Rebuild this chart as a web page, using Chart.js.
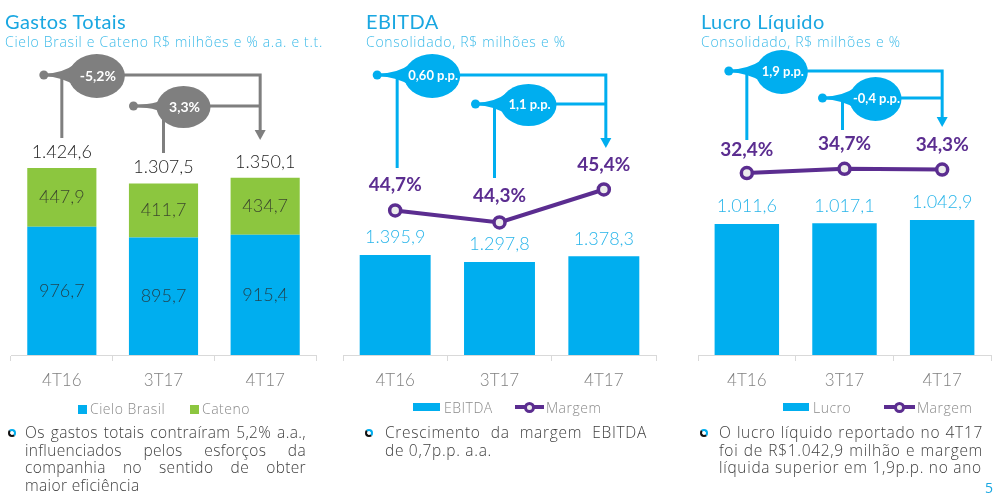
<!DOCTYPE html>
<html><head><meta charset="utf-8">
<script src="https://cdn.jsdelivr.net/npm/chart.js@4.4.0/dist/chart.umd.min.js"></script>
<style>
html,body{margin:0;padding:0;background:#fff;}
body{width:1000px;height:496px;position:relative;overflow:hidden;font-family:'Open Sans',Lato,sans-serif;}
canvas{position:absolute;left:0;top:0;}
.t{position:absolute;color:#1aa7e1;font-family:Lato,sans-serif;font-size:20px;line-height:20px;letter-spacing:0.4px;white-space:nowrap;}
.s{position:absolute;color:#3dbbe9;font-size:14px;line-height:14px;font-weight:300;letter-spacing:0.7px;white-space:nowrap;}
.leg{position:absolute;font-size:14px;color:#8a8a8a;font-weight:300;white-space:nowrap;line-height:16px;letter-spacing:0.5px;}
.sw{position:absolute;}
.lm{position:absolute;height:4px;background:#5b2d90;}
.lc{position:absolute;width:5px;height:5px;border:3px solid #5b2d90;border-radius:50%;background:#eee;}
.body{position:absolute;font-size:15.5px;color:#404040;font-weight:300;line-height:17.7px;letter-spacing:0.7px;}
.body div{text-align:justify;text-align-last:justify;}
.body div.last{text-align:left;text-align-last:left;}
.bul{position:absolute;width:4px;height:4px;border:2px solid;border-color:#00aeef #00aeef #111 #111;border-radius:50%;}
.pg{position:absolute;left:985px;top:478px;color:#1aa7e1;font-size:14px;}
</style>
</head><body>
<canvas id="c1" width="1000" height="496"></canvas>
<canvas id="c2" width="1000" height="496"></canvas>
<canvas id="c3" width="1000" height="496"></canvas>

<div class="t" style="left:5px;top:11px">Gastos Totais</div>
<div class="s" style="left:5px;top:35px">Cielo Brasil e Cateno R$ milhões e % a.a. e t.t.</div>
<div class="t" style="left:366px;top:11px">EBITDA</div>
<div class="s" style="left:366px;top:35px">Consolidado, R$ milhões e %</div>
<div class="t" style="left:701px;top:11px">Lucro Líquido</div>
<div class="s" style="left:701px;top:35px">Consolidado, R$ milhões e %</div>

<div class="sw" style="left:78px;top:405px;width:9px;height:9px;background:#00aeef"></div>
<div class="leg" style="left:90px;top:401px">Cielo Brasil</div>
<div class="sw" style="left:190px;top:405px;width:9px;height:9px;background:#8cc63f"></div>
<div class="leg" style="left:202px;top:401px">Cateno</div>

<div class="sw" style="left:413px;top:403px;width:27px;height:8px;background:#00aeef"></div>
<div class="leg" style="left:444px;top:400px">EBITDA</div>
<div class="lm" style="left:515px;top:405px;width:29px"></div>
<div class="lc" style="left:524px;top:402px"></div>
<div class="leg" style="left:546px;top:400px">Margem</div>

<div class="sw" style="left:783px;top:403px;width:26px;height:8px;background:#00aeef"></div>
<div class="leg" style="left:813px;top:400px">Lucro</div>
<div class="lm" style="left:884px;top:405px;width:31px"></div>
<div class="lc" style="left:894px;top:402px"></div>
<div class="leg" style="left:917px;top:400px">Margem</div>

<div class="bul" style="left:8px;top:429px"></div>
<div class="body" style="left:25px;top:424px;width:281px;letter-spacing:0.35px">
<div>Os gastos totais contraíram 5,2% a.a.,</div>
<div>influenciados pelos esforços da</div>
<div>companhia no sentido de obter</div>
<div class="last">maior eficiência</div>
</div>
<div class="bul" style="left:365px;top:429px"></div>
<div class="body" style="left:385px;top:424px;width:262px">
<div>Crescimento da margem EBITDA</div>
<div class="last">de 0,7p.p. a.a.</div>
</div>
<div class="bul" style="left:700px;top:429px"></div>
<div class="body" style="left:719px;top:424px;width:264px">
<div>O lucro líquido reportado no 4T17</div>
<div>foi de R$1.042,9 milhão e margem</div>
<div class="last">líquida superior em 1,9p.p. no ano</div>
</div>
<div class="pg">5</div>

<script>
// ---- data ----
const categories = ['4T16', '3T17', '4T17'];
const gastosCielo = [976.7, 895.7, 915.4];
const gastosCateno = [447.9, 411.7, 434.7];
const gastosTotal = [1424.6, 1307.5, 1350.1];
const ebitdaValues = [1395.9, 1297.8, 1378.3];
const ebitdaMargem = [44.7, 44.3, 45.4];
const lucroValues = [1011.6, 1017.1, 1042.9];
const lucroMargem = [32.4, 34.7, 34.3];
const gastosChanges = ['-5,2%', '3,3%'];
const ebitdaChanges = ['0,60 p.p.', '1,1 p.p.'];
const lucroChanges = ['1,9 p.p.', '-0,4 p.p.'];

const BLUE = '#00aeef', GREEN = '#8cc63f', PURPLE = '#5b2d90', GRAY = '#7f7f7f';
const FONT = 'Lato';

function fmt(v) {
  const parts = v.toFixed(1).split('.');
  return parts[0].replace(/\B(?=(\d{3})+(?!\d))/g, '.') + ',' + parts[1];
}
function pct(v) { return v.toFixed(1).replace('.', ',') + '%'; }

function bracket(ctx, o) {
  const { color, y, x0, sOff, bOff, bottom, rx, ry, text, x1, tip, fs } = o;
  const sx = x0 + sOff, bx = x0 + bOff;
  ctx.save();
  ctx.strokeStyle = color; ctx.fillStyle = color; ctx.lineWidth = 3;
  ctx.beginPath(); ctx.moveTo(x0, y); ctx.lineTo(x0, bottom); ctx.stroke();
  ctx.beginPath(); ctx.moveTo(bx, y); ctx.lineTo(x1, y);
  if (tip) ctx.lineTo(x1, tip - 9);
  ctx.stroke();
  if (tip) {
    ctx.beginPath(); ctx.moveTo(x1 - 5.5, tip - 10); ctx.lineTo(x1 + 5.5, tip - 10); ctx.lineTo(x1, tip);
    ctx.closePath(); ctx.fill();
  }
  ctx.beginPath(); ctx.arc(sx, y, 4.5, 0, Math.PI * 2); ctx.fill();
  const bl = bx - rx;
  ctx.beginPath();
  ctx.moveTo(sx, y - 1.5);
  ctx.quadraticCurveTo(x0 + 1, y - 1.5, bl + 6, y - 11);
  ctx.lineTo(bl + 6, y + 11);
  ctx.quadraticCurveTo(x0 + 1, y + 1.5, sx, y + 1.5);
  ctx.closePath(); ctx.fill();
  ctx.beginPath(); ctx.ellipse(bx, y + 1, rx, ry, 0, 0, Math.PI * 2); ctx.fill();
  ctx.fillStyle = '#fff'; ctx.font = `bold ${fs}px ${FONT}`;
  ctx.textAlign = 'center'; ctx.textBaseline = 'middle';
  ctx.fillText(text, bx + 1, y + 1);
  ctx.restore();
}

function baseOptions(padL, padR, yMax, y1Min, y1Max, stacked) {
  return {
    responsive: false, animation: false, events: [],
    layout: { padding: { left: padL, right: padR, top: 40, bottom: 96.6 } },
    plugins: { legend: { display: false }, tooltip: { enabled: false } },
    scales: {
      x: {
        stacked: stacked,
        grid: { display: true, drawOnChartArea: false, drawTicks: true, tickLength: 6, color: '#d9d9d9', offset: true },
        border: { display: true, color: '#d9d9d9', width: 1 },
        ticks: { color: '#808080', font: { family: FONT, size: 17, weight: 300 }, padding: 9 }
      },
      y: { display: false, min: 0, max: yMax, stacked: stacked },
      y1: { display: false, min: y1Min, max: y1Max, position: 'right' }
    }
  };
}

// ---- Chart 1: Gastos Totais ----
new Chart(document.getElementById('c1'), {
  type: 'bar',
  data: {
    labels: categories,
    datasets: [
      { label: 'Cielo Brasil', data: gastosCielo, backgroundColor: BLUE, categoryPercentage: 1, barPercentage: 0.68 },
      { label: 'Cateno', data: gastosCateno, backgroundColor: GREEN, categoryPercentage: 1, barPercentage: 0.68 }
    ]
  },
  options: baseOptions(11, 684, 2400, 0, 1, true),
  plugins: [{
    id: 'lab1',
    afterDatasetsDraw(chart) {
      const ctx = chart.ctx, m0 = chart.getDatasetMeta(0), m1 = chart.getDatasetMeta(1);
      ctx.save(); ctx.textAlign = 'center'; ctx.textBaseline = 'middle';
      ctx.font = `300 18px ${FONT}`;
      ctx.fillStyle = 'rgba(40,40,40,0.8)';
      m0.data.forEach((b, i) => ctx.fillText(fmt(gastosCielo[i]), b.x, (b.y + b.base) / 2));
      m1.data.forEach((b, i) => ctx.fillText(fmt(gastosCateno[i]), b.x, (b.y + b.base) / 2));
      ctx.fillStyle = '#1e1e1e';
      m1.data.forEach((b, i) => ctx.fillText(fmt(gastosTotal[i]), b.x, b.y - 16));
      ctx.restore();
      const d = m1.data;
      const x1 = d[2].x - 5;
      bracket(ctx, { color: GRAY, y: 75, x0: d[0].x, sOff: -18, bOff: 35, bottom: 138, rx: 28, ry: 22, text: gastosChanges[0], x1, tip: 140, fs: 14 });
      bracket(ctx, { color: GRAY, y: 106, x0: d[1].x, sOff: -30, bOff: 20, bottom: 153, rx: 27, ry: 21, text: gastosChanges[1], x1, tip: null, fs: 14 });
    }
  }]
});

// ---- Charts 2 and 3: bars + margin line ----
function comboChart(id, barLabel, barVals, margVals, padL, padR, yMax, y1Min, y1Max, barPct, pctOff, changes, br) {
  new Chart(document.getElementById(id), {
    type: 'bar',
    data: {
      labels: categories,
      datasets: [
        { type: 'line', label: 'Margem', data: margVals, yAxisID: 'y1', order: 0,
          borderColor: PURPLE, borderWidth: 4, pointRadius: 5.5, pointBorderWidth: 3.5,
          pointBackgroundColor: '#ececec', pointBorderColor: PURPLE, tension: 0, clip: false },
        { type: 'bar', label: barLabel, data: barVals, yAxisID: 'y', order: 1,
          backgroundColor: BLUE, categoryPercentage: 1, barPercentage: barPct }
      ]
    },
    options: baseOptions(padL, padR, yMax, y1Min, y1Max, false),
    plugins: [{
      id: 'lab' + id,
      afterDatasetsDraw(chart) {
        const ctx = chart.ctx, ml = chart.getDatasetMeta(0), mb = chart.getDatasetMeta(1);
        ctx.save(); ctx.textAlign = 'center'; ctx.textBaseline = 'middle';
        ctx.font = `300 18px ${FONT}`; ctx.fillStyle = '#29b5ea';
        mb.data.forEach((b, i) => ctx.fillText(fmt(barVals[i]), b.x, b.y - 17.5));
        ctx.font = `bold 19px ${FONT}`; ctx.fillStyle = PURPLE;
        ml.data.forEach((p, i) => ctx.fillText(pct(margVals[i]), p.x, p.y + pctOff[i]));
        ctx.restore();
        const d = mb.data;
        const x1 = d[2].x + br.endOff;
        bracket(ctx, Object.assign({ color: BLUE, x0: d[0].x + br.o.dx, x1, text: changes[0], fs: 13 }, br.o));
        bracket(ctx, Object.assign({ color: BLUE, x0: d[1].x + br.i.dx, x1, text: changes[1], fs: 13, tip: null }, br.i));
      }
    }]
  });
}

comboChart('c2', 'EBITDA', ebitdaValues, ebitdaMargem, 343, 344, 4400, 39.883, 50.383, 0.68, [-26, -27, -25], ebitdaChanges, {
  endOff: 2,
  o: { dx: 2, y: 75, sOff: -20, bOff: 35, bottom: 168, rx: 28, ry: 22, tip: 148 },
  i: { dx: -5, y: 104, sOff: -19, bOff: 34, bottom: 178, rx: 28, ry: 21 }
});

comboChart('c3', 'Lucro', lucroValues, lucroMargem, 698, 4, 2432, -68.71, 106.29, 0.66, [-23, -25, -25], lucroChanges, {
  endOff: 0,
  o: { dx: 0, y: 71, sOff: -18, bOff: 35, bottom: 140, rx: 26, ry: 22, tip: 127 },
  i: { dx: -2, y: 98, sOff: -20, bOff: 33, bottom: 130, rx: 26, ry: 22 }
});
</script>
</body></html>
